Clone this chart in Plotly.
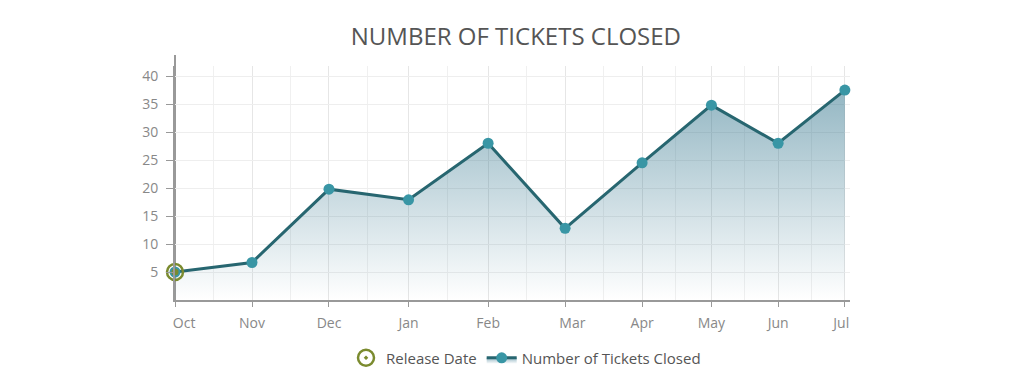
import plotly.graph_objects as go
from datetime import date, timedelta

# ---- data ----
dates = ["2016-10-01", "2016-10-31", "2016-11-30", "2016-12-31", "2017-01-31",
         "2017-03-02", "2017-04-01", "2017-04-28", "2017-05-24", "2017-06-19"]
month_labels = ["Oct", "Nov", "Dec", "Jan", "Feb", "Mar", "Apr", "May", "Jun", "Jul"]
tickets_closed = [5, 6.7, 19.8, 17.9, 28.0, 12.8, 24.5, 34.8, 28.0, 37.5]
release_dates = ["2016-10-01"]
release_values = [5]
y_ticks = [5, 10, 15, 20, 25, 30, 35, 40]

NB = "\u00a0"
label_pad = {"Oct": (5, 0), "Mar": (4, 0), "Jul": (0, 2)}
tick_text = [NB * label_pad.get(m, (0, 0))[0] + m + NB * label_pad.get(m, (0, 0))[1]
             for m in month_labels]

# midpoints between month ticks for the minor grid
d_objs = [date.fromisoformat(d) for d in dates]
mids = [(a + (b - a) / 2).isoformat() for a, b in zip(d_objs[:-1], d_objs[1:])]
x_end = (d_objs[-1] + timedelta(days=2)).isoformat()

OLIVE = "#7b8b2f"

fig = go.Figure()
fig.add_trace(go.Scatter(
    x=dates, y=tickets_closed, name="Number of Tickets Closed",
    mode="lines+markers", cliponaxis=False,
    line=dict(color="#276670", width=3),
    marker=dict(color="#3996a5", size=11),
    fill="tozeroy",
    fillgradient=dict(type="vertical",
                      colorscale=[[0, "rgba(40,110,135,0.0)"], [1, "rgba(40,110,135,0.5)"]]),
))
fig.add_trace(go.Scatter(
    x=release_dates, y=release_values, name="Release Date",
    mode="markers", cliponaxis=False,
    marker=dict(symbol="circle-open-dot", color=OLIVE, size=16,
                line=dict(width=2.5, color=OLIVE)),
))
fig.add_trace(go.Scatter(
    x=release_dates, y=release_values, name="Release Date", showlegend=False,
    mode="markers", cliponaxis=False, hoverinfo="skip",
    marker=dict(symbol="circle", color=OLIVE, size=7),
))

axis_font = dict(family="Open Sans", size=14, color="#888888")
fig.update_layout(
    width=1024, height=390,
    paper_bgcolor="white", plot_bgcolor="white",
    margin=dict(l=167, r=182, t=58, b=98),
    title=dict(text="NUMBER OF TICKETS CLOSED", x=0.496, xanchor="center", y=0.9256, yanchor="middle",
               font=dict(family="Open Sans", size=24, color="#555555")),
    font=dict(family="Open Sans"),
    showlegend=True,
    legend=dict(orientation="h", x=0.52, xanchor="center", y=-0.248, yanchor="middle",
                traceorder="reversed", font=dict(family="Open Sans", size=15, color="#555555")),
    xaxis=dict(
        type="date", range=[dates[0], x_end],
        tickmode="array", tickvals=dates, ticktext=tick_text,
        showline=True, linecolor="#999999", linewidth=2,
        ticks="outside", ticklen=5, tickcolor="#999999", tickwidth=1,
        ticklabelstandoff=4,
        showgrid=True, gridcolor="#e6e6e6", gridwidth=1,
        minor=dict(tickmode="array", tickvals=mids, showgrid=True, gridcolor="#f0f0f0", ticks=""),
        tickfont=axis_font, zeroline=False,
    ),
    yaxis=dict(
        range=[0, 41.8], tickmode="array", tickvals=y_ticks,
        showline=True, linecolor="#999999", linewidth=2,
        ticks="outside", ticklen=7, tickcolor="#999999", tickwidth=1,
        ticklabelstandoff=5,
        showgrid=True, gridcolor="#eeeeee", gridwidth=1,
        tickfont=axis_font, zeroline=False,
    ),
    shapes=[dict(type="line", xref="paper", yref="paper", x0=0, x1=0, y0=0, y1=1.047,
                 line=dict(color="#999999", width=2), layer="below")],
)
fig.write_html("out.html")
